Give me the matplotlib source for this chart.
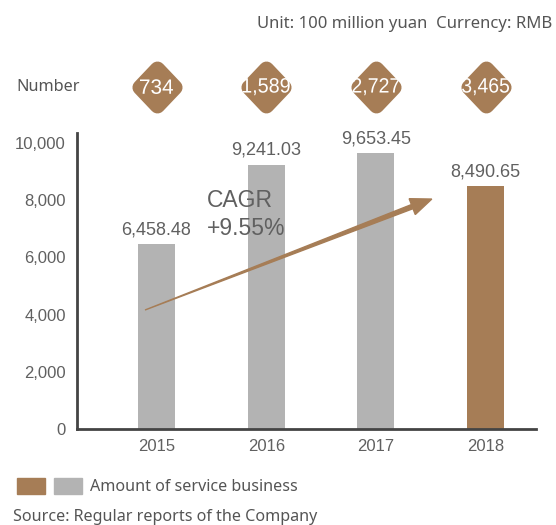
import numpy as np
import matplotlib.pyplot as plt
from matplotlib.markers import MarkerStyle
from matplotlib.path import Path
from matplotlib.patches import Polygon, Rectangle, PathPatch
from matplotlib.textpath import TextPath
from matplotlib.font_manager import FontProperties
from matplotlib.transforms import Affine2D

years = ["2015", "2016", "2017", "2018"]
amounts = [6458.48, 9241.03, 9653.45, 8490.65]
amount_labels = ["6,458.48", "9,241.03", "9,653.45", "8,490.65"]
numbers = ["734", "1,589", "2,727", "3,465"]
yticks = [0, 2000, 4000, 6000, 8000, 10000]
ytick_labels = ["0", "2,000", "4,000", "6,000", "8,000", "10,000"]

GRAY = "#b3b3b3"
BROWN = "#a67d56"
TEXT = "#606060"
num_font = ["Liberation Sans", "DejaVu Sans"]
body_font = ["Noto Sans", "DejaVu Sans"]

fig = plt.figure(figsize=(5.56, 5.25), dpi=100)
ax = fig.add_axes([0.1385, 0.1829, 0.8255, 0.5638])

x = np.arange(len(years))
colors = [GRAY] * (len(years) - 1) + [BROWN]
ax.bar(x, amounts, width=0.337, color=colors, zorder=2)
for xi, v, lab in zip(x, amounts, amount_labels):
    ax.text(xi, v + 200, lab, ha="center", va="bottom", fontsize=13,
            color=TEXT, family=num_font)

ax.set_xlim(-0.725, 3.46)
ax.set_ylim(0, 10350)
ax.set_xticks(x, years, family=num_font, fontsize=12, color=TEXT)
ax.set_yticks(yticks, ytick_labels, family=num_font, fontsize=12, color=TEXT)
ax.tick_params(length=0)
ax.tick_params(axis="x", pad=7)
ax.tick_params(axis="y", pad=8)
for s in ["top", "right"]:
    ax.spines[s].set_visible(False)
for s in ["left", "bottom"]:
    ax.spines[s].set_color("#444444")
    ax.spines[s].set_linewidth(2)

# CAGR arrow: tapered shaft with a head, built in pixel space
fig.canvas.draw()
p0 = ax.transData.transform((-0.105, 4160))
p1 = ax.transData.transform((2.51, 8040))
d = (p1 - p0) / np.linalg.norm(p1 - p0)
n = np.array([-d[1], d[0]])
head_len, head_w, shaft_w = 21, 8.5, 2.2
base = p1 - d * head_len
pts = [p0, base - n * shaft_w, base - n * head_w, p1,
       base + n * head_w, base + n * shaft_w]
fig.patches.append(Polygon(pts, closed=True, color=BROWN, transform=None,
                           figure=fig, zorder=5))
ax.text(0.46, 7500, "CAGR\n+9.55%", fontsize=16.5, color=TEXT, family=num_font,
        ha="left", va="center", linespacing=1.25, zorder=6)

# number row with rounded diamonds
fig.text(0.029, 0.834, "Number", fontsize=11.7, color="#555555",
         family=body_font, va="center")
dax = fig.add_axes([0.1385, 0.78, 0.8255, 0.11])
dax.set_xlim(ax.get_xlim())
dax.set_ylim(0, 1)
dax.axis("off")
diamond = Path([(0, 1), (0.95, 0), (0, -1), (-0.95, 0), (0, 1)],
               [Path.MOVETO, Path.LINETO, Path.LINETO, Path.LINETO, Path.CLOSEPOLY])
marker = MarkerStyle(diamond, joinstyle="round")
dax.plot(x, [0.5] * len(x), ls="none", marker=marker, markersize=26.4,
         markerfacecolor=BROWN, markeredgecolor=BROWN, markeredgewidth=11)

# numbers inside the diamonds, squeezed horizontally when too wide
fig.canvas.draw()
prop = FontProperties(family="Liberation Sans")
for xi, lab in zip(x, numbers):
    tp = TextPath((0, 0), lab, size=20.8, prop=prop)
    ext = tp.get_extents()
    sx = min(1.0, 47 / ext.width)
    cx, cy = dax.transData.transform((xi, 0.5))
    tr = (Affine2D().translate(-(ext.x0 + ext.x1) / 2, -(ext.y0 + ext.y1) / 2)
          .scale(sx, 1).translate(cx, cy))
    fig.patches.append(PathPatch(tr.transform_path(tp), color="white", lw=0,
                                 transform=None, figure=fig, zorder=10))

fig.text(0.993, 0.954, "Unit: 100 million yuan  Currency: RMB", ha="right",
         va="center", fontsize=12, color="#555555", family=body_font)

# legend
fig.patches.append(Rectangle((17 / 556, 1 - 494 / 525), 28 / 556, 16 / 525,
                             color=BROWN, transform=fig.transFigure, figure=fig))
fig.patches.append(Rectangle((54 / 556, 1 - 494 / 525), 28 / 556, 16 / 525,
                             color=GRAY, transform=fig.transFigure, figure=fig))
fig.text(90 / 556, 1 - 487 / 525, "Amount of service business", fontsize=11.6,
         color="#555555", family=body_font, va="center")
fig.text(13 / 556, 1 - 517 / 525, "Source: Regular reports of the Company",
         fontsize=11.6, color="#555555", family=body_font, va="center")

fig.savefig("out.png", dpi=100)
